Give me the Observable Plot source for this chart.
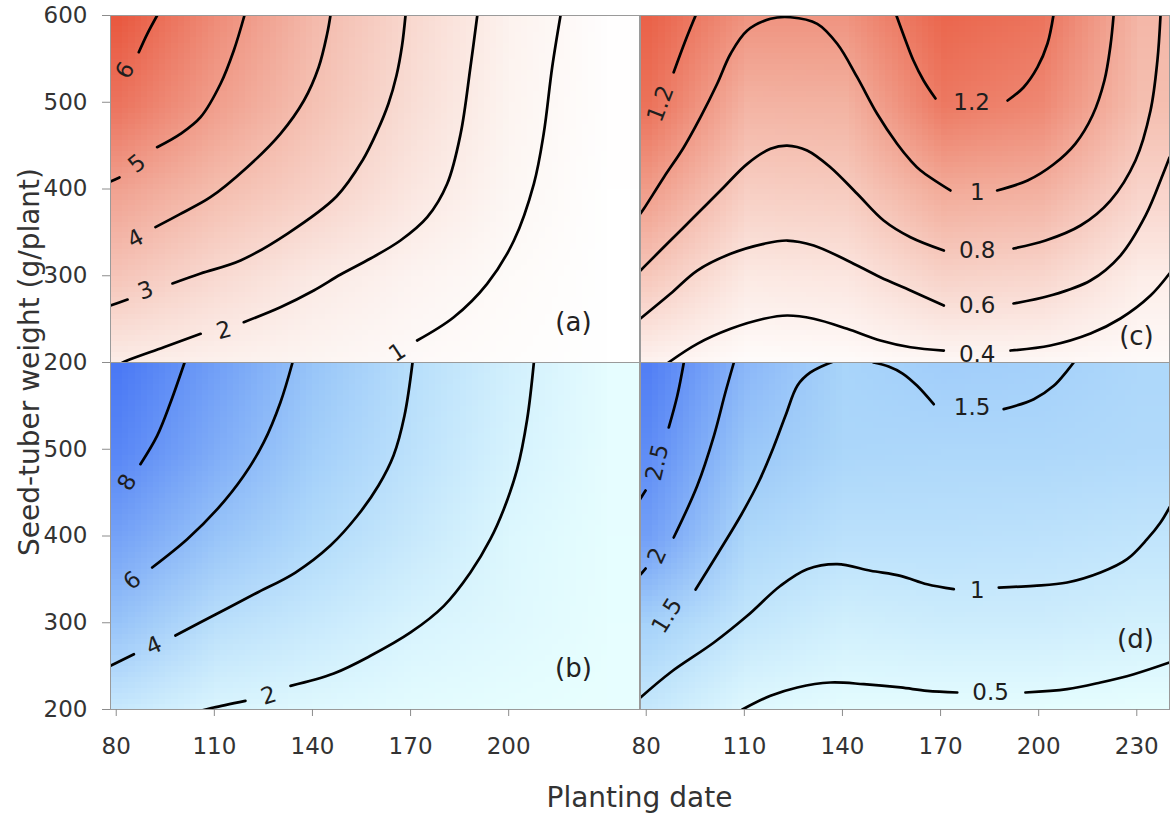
<!DOCTYPE html>
<html>
<head>
<meta charset="utf-8">
<script src="https://cdn.jsdelivr.net/npm/d3@7"></script>
<script src="https://cdn.jsdelivr.net/npm/@observablehq/plot@0.6"></script>
<style>
  body { margin: 0; background: #fff; }
  #chart { position: relative; width: 1172px; height: 816px; font-family: "DejaVu Sans", sans-serif; color: #333; }
  .xtitle { position: absolute; left: 0; width: 1279px; top: 784px; text-align: center; font-size: 28px; line-height: 28px; }
  .ytitle { position: absolute; left: -220px; width: 500px; top: 348px; text-align: center; font-size: 28px; line-height: 28px; transform: rotate(-90deg); transform-origin: 250px 14px; }
</style>
</head>
<body>
<div id="chart">
  <div class="xtitle">Planting date</div>
  <div class="ytitle">Seed-tuber weight (g/plant)</div>
</div>
<script>
// ---------- scales / ticks ----------
const xDomain = [78.25, 240];
const yDomain = [200, 600];
const xTicksLeft = [80, 110, 140, 170, 200];
const xTicksRight = [80, 110, 140, 170, 200, 230];
const yTicksTop = [200, 300, 400, 500, 600];
const yTicksBottom = [200, 300, 400, 500];

// ---------- surface samples (rows: y = 600..200, cols: x = 80..230) ----------
const gridX = [80, 110, 140, 170, 200, 230];
const gridY = [600, 500, 400, 300, 200];
const gridA = [
  6.5, 5.35, 4.2, 2.93, 1.62, 0.6,
  5.9, 4.95, 3.89, 2.7, 1.47, 0.55,
  4.85, 4.06, 3.24, 2.33, 1.26, 0.5,
  3.7, 2.86, 2.19, 1.53, 0.9, 0.5,
  2.05, 1.7, 1.35, 0.95, 0.7, 0.5
];
const gridC = [
  1.30, 1.07, 1.07, 1.28, 1.22, 0.90,
  1.23, 0.92, 0.93, 1.20, 1.13, 0.85,
  1.03, 0.74, 0.76, 0.97, 0.94, 0.70,
  0.78, 0.53, 0.56, 0.71, 0.68, 0.49,
  0.42, 0.33, 0.34, 0.37, 0.37, 0.35
];
const gridB = [
  9.27, 7.45, 5.67, 4.03, 2.42, 1.25,
  8.6, 6.82, 5.22, 3.75, 2.22, 1.25,
  7.3, 5.68, 4.37, 3.07, 1.77, 1.2,
  5.7, 3.87, 2.99, 2.1, 1.6, 1.15,
  3.0, 1.9, 1.6, 1.35, 1.2, 1.1
];
const gridD = [
  2.88, 1.95, 1.48, 1.6, 1.55, 1.4,
  2.66, 1.72, 1.42, 1.4, 1.4, 1.33,
  2.35, 1.4, 1.15, 1.15, 1.13, 1.05,
  1.52, 1.0, 0.76, 0.83, 0.82, 0.72,
  0.95, 0.5, 0.4, 0.38, 0.38, 0.35
];

// ---------- contour lines [level, [[date, weight], ...]] ----------
const linesA = [
  [6, [[92.5,600],[89.5,578.9],[86.9,557.7]]],
  [5, [[119.2,600],[115.95,559.7],[111.9,521.3],[105.8,482.8],[99.65,463.6],[92.5,448.2]]],
  [5, [[81.0,413.3],[78.25,408.6],[77,406.5]]],
  [4, [[145.5,600],[144.5,578.9],[141.9,540.4],[137.4,502],[130.2,463.6],[120.05,425.1],[108.8,390.5],[99.65,371.4],[92.0,356]]],
  [3, [[168.45,600],[167.4,565.4],[165.7,530.8],[163.25,498.6],[159.9,467.4],[155.3,432.9],[147.35,391.4],[132.4,348.7],[118.0,317.6],[105.8,302.6],[97.2,291.1]]],
  [3, [[83.45,272.6],[78.25,265.7],[77,264]]],
  [2, [[190.4,600],[188.3,540.4],[185.3,463.6],[181.2,406],[175.1,367.5],[166.9,340.6],[157.75,319.9],[148.6,301.4],[140.4,283],[130.2,263.7],[119.0,246.5]]],
  [2, [[105.8,233.1],[94.55,217.6],[83.35,202.3],[81.5,199]]],
  [1, [[215.85,600],[213.3,540.4],[210.7,463.6],[207.7,406],[201.6,340.6],[193.4,290.7],[183.2,252.2],[172.0,225.4]]]
];
const linesC = [
  [1.2, [[95.1,600],[92.0,571.2],[88.4,534.6]]],
  [1.2, [[156.5,600],[159.3,571.2],[161.7,548.1],[164.8,525.1],[168.45,504.3]]],
  [1.2, [[190.5,502],[195.35,517],[199.6,540.1],[202.7,567.7],[204.5,600]]],
  [1, [[78.25,371.8],[79.26,377.2],[85.4,413.6],[91.5,448.2],[96.6,482.8],[101.7,521.3],[105.8,555.9],[110.9,582.7],[118.0,596.2],[124.1,598],[132.3,590.4],[138.4,567.4],[144.5,528.9],[150.6,486.7],[156.7,452.1],[160.8,432.9],[163.9,421.3],[173.0,398.3]]],
  [1, [[187.3,398.3],[196.6,409.8],[204.5,428.2],[211.25,452.4],[216.45,484.7],[220.1,525.1],[221.95,565.4],[222.9,600]]],
  [0.8, [[78.25,306],[79.26,309.9],[87.4,340.6],[95.6,371.4],[103.7,402.1],[110.9,429],[118.0,446.3],[123.1,450.1],[129.2,444.4],[136.3,425.1],[144.5,394.5],[152.6,363.7],[160.8,344.4],[171.0,329.1]]],
  [0.8, [[192.3,331.4],[202.1,340.6],[212.8,357.9],[221.95,386.7],[229.6,432.9],[234.2,490.5],[236.3,548.1],[237.25,600]]],
  [0.6, [[78.25,250.7],[87.4,279.2],[95.6,306],[105.8,325.3],[115.95,336.8],[123.1,340.6],[131.2,334.9],[141.45,317.6],[151.6,298.3],[160.8,283],[171.0,265.7]]],
  [0.6, [[192.3,268],[203.6,277.2],[215.85,294.5],[225.0,323.3],[232.7,369.5],[237.85,415.6],[240,436.3]]],
  [0.4, [[86.8,200],[95.6,221.5],[105.8,238.8],[115.95,250.4],[123.1,254.2],[131.2,250.4],[141.45,238.8],[151.6,225.4],[160.8,217.6],[171.0,213.8]]],
  [0.4, [[191.4,213.8],[203.6,219.6],[215.85,233.4],[225.0,250.7],[234.2,277.2],[240,302.6]]]
];
const linesB = [
  [8, [[100.9,600],[96.6,553.9],[92.5,515.5],[87.4,482.8]]],
  [6, [[133.9,600],[130.2,553.9],[125.1,507.8],[119.0,469.4],[110.9,430.9],[101.7,396.3],[91.0,363.7]]],
  [4, [[170.6,600],[168.15,538.9],[164.8,492.8],[160.2,458.2],[153.8,423.6],[145.5,389],[134.8,357.9],[122.6,333.7],[110.35,309.5],[98.1,285.3]]],
  [4, [[85.4,263.7],[78.25,250.4],[77,248]]],
  [2, [[207.7,600],[205.65,534.6],[202.6,477],[198.5,430.9],[194.4,396.3],[188.3,357.9],[180.2,319.5],[170.0,288.8],[157.75,261.9],[146.5,241.5],[133.3,227.3]]],
  [2, [[119.5,210],[109.8,202.3],[107.3,200],[105,198]]]
];
const linesD = [
  [2.5, [[91.5,600],[89.5,561.6],[86.9,525.1]]],
  [2.5, [[79.8,452.4],[78.25,443.2],[77.5,439]]],
  [2, [[106.8,600],[104.2,565.4],[100.7,515.5],[95.6,457.9],[88.4,398.3]]],
  [2, [[79.8,362.5],[78.25,355.6],[77.5,352]]],
  [1.5, [[137.8,602],[130.2,588.5],[126.25,573.5],[122.6,538.9],[118.9,502],[114.6,464],[109.1,424.8],[102.1,381],[95.1,338.3]]],
  [1.5, [[149.5,600],[154.1,595.4],[158.4,587.3],[162.85,573.1],[167.9,551.9]]],
  [1.5, [[189.3,546.2],[198.5,557.7],[204.6,573.1],[208.7,590.4],[210.7,600]]],
  [1, [[78.25,213.8],[87.4,242.7],[100.7,277.2],[110.9,308],[121.05,342.6],[129.2,361.7],[138.4,367.5],[148.6,359.9],[157.75,354.1],[165.9,344.4],[174.05,338.7]]],
  [1, [[187.8,340.6],[198.5,342.6],[208.7,346.4],[218.9,357.9],[227.05,373.3],[233.15,396.3],[237.25,415.6],[240,432.9]]],
  [0.5, [[109.4,200],[118.0,215.8],[126.2,225.4],[136.3,231.1],[146.5,229.2],[157.75,225.4],[165.9,221.5],[175.1,219.6]]],
  [0.5, [[195.95,219.6],[208.7,223.4],[218.9,231.1],[229.1,240.7],[240,254.2]]]
];

// ---------- contour labels [date, weight, text, angle] ----------
const labelsA = [[82.8,536.6,"6",-60],[86.4,429.1,"5",-39],[85.9,342.6,"4",-28],[89.0,283,"3",-20],[112.9,236.9,"2",-15],[166.0,211.5,"1",-33]];
const labelsC = [[84.4,498.2,"1.2",-69],[179.5,499.7,"1.2",0],[181.2,396.3,"1",0],[181.2,329.1,"0.8",0],[181.2,265.7,"0.6",0],[181.2,209,"0.4",0]];
const labelsB = [[83.4,461.7,"8",-60],[84.9,348.4,"6",-40],[91.5,273.4,"4",-24],[126.65,215.8,"2",-18]];
const labelsD = [[83.4,484.7,"2.5",-77],[83.4,377.2,"2",-66],[86.4,308,"1.5",-58],[179.65,548.1,"1.5",0],[181.2,336.8,"1",0],[185.3,219.6,"0.5",0]];

// ---------- panel tags [text, date, weight] ----------
const tagA = ["(a)", 219.8, 246.1];
const tagB = ["(b)", 219.8, 247.3];
const tagC = ["(c)", 229.9, 230];
const tagD = ["(d)", 229.6, 280.7];

const redsA = ["#ffffff", "#fcefea", "#f3b3a3", "#e8553b"];
const redsC = ["#fffdfc", "#fbe3dc", "#f3b09f", "#ea5e44"];
const blues = ["#e8ffff", "#a8d4fa", "#4a78f5"];

const chart = document.getElementById("chart");

function panel(o) {
  const rows = o.lines.flatMap(([level, pts], i) => pts.map(([x, y]) => ({x, y, seg: i, level})));
  const dx = gridX[1] - gridX[0], dy = gridY[0] - gridY[1];
  const marks = [
    Plot.raster(o.grid, {
      width: gridX.length, height: gridY.length,
      x1: gridX[0] - dx / 2, x2: gridX[gridX.length - 1] + dx / 2,
      y1: gridY[0] + dy / 2, y2: gridY[gridY.length - 1] - dy / 2,
      fill: (d) => d, clip: true, imageRendering: "auto"
    }),
    Plot.line(rows, {x: "x", y: "y", z: "seg", stroke: "#000", strokeWidth: 2.7, curve: "catmull-rom", clip: true}),
    Plot.text(o.labels, {x: (d) => d[0], y: (d) => d[1], text: (d) => d[2], rotate: (d) => d[3],
      fontSize: 23, fill: "#1e1e1e", textAnchor: "middle", lineAnchor: "middle", clip: true}),
    Plot.text([o.tag], {x: (d) => d[1], y: (d) => d[2], text: (d) => d[0], fontSize: 26, fill: "#222",
      textAnchor: "middle", lineAnchor: "middle"}),
    Plot.frame({stroke: "#9a9a9a", strokeWidth: 1})
  ];
  if (o.yTicks) marks.push(Plot.axisY(o.yTicks, {anchor: "left", tickSize: 8, tickPadding: 15, fontSize: 23,
    stroke: "#8c8c8c", fill: "#333", label: null, tickFormat: (d) => String(d)}));
  if (o.xTicks) marks.push(Plot.axisX(o.xTicks, {anchor: "bottom", tickSize: 7, tickPadding: 21, fontSize: 23,
    stroke: "#8c8c8c", fill: "#333", label: null, tickFormat: (d) => String(d)}));
  const svg = Plot.plot({
    width: 529 + o.mL + o.mR, height: 347 + o.mT + o.mB,
    marginLeft: o.mL, marginRight: o.mR, marginTop: o.mT, marginBottom: o.mB,
    x: {domain: xDomain, axis: null},
    y: {domain: yDomain, axis: null},
    color: {type: "linear", domain: o.colorDomain, range: o.colorRange, interpolate: "rgb", clamp: true},
    style: {fontFamily: "DejaVu Sans, sans-serif", background: "transparent", overflow: "visible", color: "#333"},
    marks
  });
  svg.style.position = "absolute";
  svg.style.left = o.left + "px";
  svg.style.top = o.top + "px";
  chart.appendChild(svg);
}

panel({grid: gridA, colorDomain: [0.5, 2, 4.5, 6.6], colorRange: redsA, lines: linesA, labels: labelsA, tag: tagA,
  yTicks: yTicksTop, xTicks: null, left: 0, top: 0, mL: 110, mT: 15, mR: 2, mB: 2});
panel({grid: gridC, colorDomain: [0.33, 0.6, 0.95, 1.32], colorRange: redsC, lines: linesC, labels: labelsC, tag: tagC,
  yTicks: null, xTicks: null, left: 638, top: 0, mL: 2, mT: 15, mR: 3, mB: 2});
panel({grid: gridB, colorDomain: [1.1, 5, 9.3], colorRange: blues, lines: linesB, labels: labelsB, tag: tagB,
  yTicks: yTicksBottom, xTicks: xTicksLeft, left: 0, top: 360, mL: 110, mT: 2, mR: 2, mB: 60});
panel({grid: gridD, colorDomain: [0.35, 1.5, 3.0], colorRange: blues, lines: linesD, labels: labelsD, tag: tagD,
  yTicks: null, xTicks: xTicksRight, left: 638, top: 360, mL: 2, mT: 2, mR: 3, mB: 60});
</script>
</body>
</html>
